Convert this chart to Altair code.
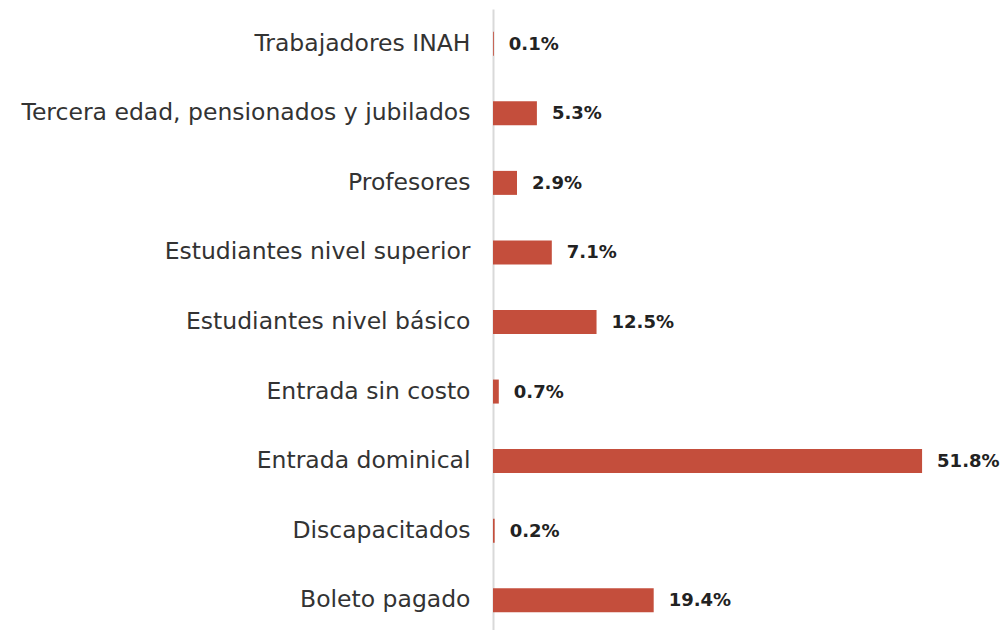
import altair as alt
import pandas as pd

categories = [
    "Trabajadores INAH",
    "Tercera edad, pensionados y jubilados",
    "Profesores",
    "Estudiantes nivel superior",
    "Estudiantes nivel básico",
    "Entrada sin costo",
    "Entrada dominical",
    "Discapacitados",
    "Boleto pagado",
]
values = [0.1, 5.3, 2.9, 7.1, 12.5, 0.7, 51.8, 0.2, 19.4]
labels = ["0.1%", "5.3%", "2.9%", "7.1%", "12.5%", "0.7%", "51.8%", "0.2%", "19.4%"]

df = pd.DataFrame({"cat": categories, "val": values, "lab": labels})

x = alt.X("val:Q", scale=alt.Scale(domain=[0, 60], nice=False), axis=None)
y = alt.Y(
    "cat:N",
    sort=categories,
    scale=alt.Scale(paddingInner=0.0, paddingOuter=0.0),
    axis=alt.Axis(
        title=None,
        ticks=False,
        domain=True,
        domainColor="#d9d9d9",
        domainWidth=2,
        labelFont="DejaVu Sans",
        labelFontSize=23.5,
        labelColor="#333333",
        labelPadding=23,
        labelLimit=600,
        grid=False,
    ),
)

bars = alt.Chart(df).mark_bar(size=24, color="#C44E3C").encode(x=x, y=y)
text = alt.Chart(df).mark_text(
    align="left", baseline="middle", dx=15, dy=1,
    font="DejaVu Sans", fontWeight="bold", fontSize=18, color="#222222"
).encode(x=x, y=y, text="lab:N")

chart = (
    alt.layer(bars, text)
    .properties(width=497, height=626, autosize=alt.AutoSizeParams(type="none"),
                padding={"left": 485, "top": 1, "right": 10, "bottom": 0},
                background="white")
    .configure_view(stroke=None)
)

chart.save("out.html", embed_options={"renderer": "svg", "actions": False})
